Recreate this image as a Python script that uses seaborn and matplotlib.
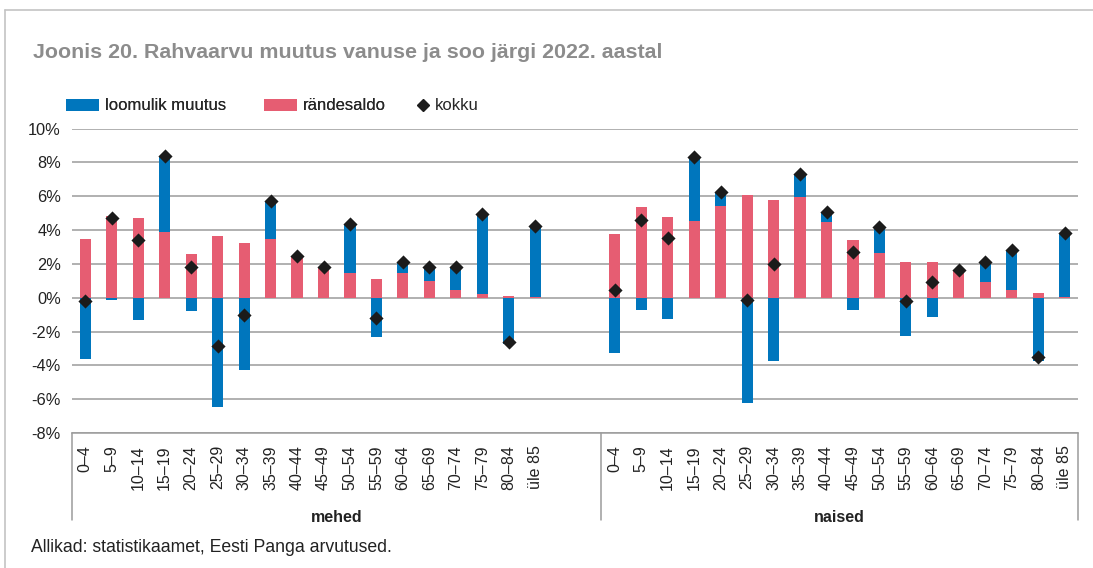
import numpy as np
import pandas as pd
import matplotlib
matplotlib.use("Agg")
import matplotlib.pyplot as plt
import matplotlib.transforms as mtransforms
from matplotlib.lines import Line2D
from matplotlib.patches import Patch
import seaborn as sns

# ---------------- data ----------------
age_groups = ["0–4", "5–9", "10–14", "15–19", "20–24", "25–29", "30–34", "35–39",
              "40–44", "45–49", "50–54", "55–59", "60–64", "65–69", "70–74",
              "75–79", "80–84", "üle 85"]
sexes = ["mehed", "naised"]

men_migration = [3.44, 4.84, 4.70, 3.89, 2.61, 3.64, 3.22, 3.44, 2.45, 1.76,
                 1.44, 1.13, 1.48, 0.99, 0.47, 0.22, 0.12, 0.06]
men_natural = [-3.62, -0.12, -1.30, 4.47, -0.81, -6.46, -4.27, 2.27, 0.02, 0.04,
               2.93, -2.35, 0.63, 0.85, 1.37, 4.70, -2.74, 4.17]
men_total = [-0.18, 4.72, 3.40, 8.36, 1.80, -2.83, -1.05, 5.71, 2.47, 1.80,
             4.37, -1.21, 2.11, 1.84, 1.84, 4.92, -2.62, 4.23]

women_migration = [3.77, 5.34, 4.78, 4.53, 5.43, 6.05, 5.75, 5.93, 4.49, 3.42,
                   2.63, 2.11, 2.11, 1.62, 0.91, 0.45, 0.26, 0.03]
women_natural = [-3.28, -0.71, -1.25, 3.79, 0.80, -6.21, -3.74, 1.38, 0.59, -0.73,
                 1.56, -2.29, -1.17, 0.02, 1.17, 2.38, -3.77, 3.78]
women_total = [0.48, 4.62, 3.54, 8.32, 6.23, -0.16, 2.00, 7.31, 5.08, 2.69,
               4.19, -0.18, 0.95, 1.64, 2.08, 2.83, -3.51, 3.81]

y_ticks = [-8, -6, -4, -2, 0, 2, 4, 6, 8, 10]

title = "Joonis 20. Rahvaarvu muutus vanuse ja soo järgi 2022. aastal"
legend_labels = ["loomulik muutus", "rändesaldo", "kokku"]
source = "Allikad: statistikaamet, Eesti Panga arvutused."

BLUE = "#0076BD"
RED = "#E65D72"
GRID = "#9b9b9b"
TEXT = "#222222"

# ---------------- table ----------------
n = len(age_groups)
gap = 2  # empty category slots after the men's group
pos = list(range(n)) + [n + gap + i for i in range(n)]
df = pd.DataFrame({
    "pos": pos,
    "sex": [sexes[0]] * n + [sexes[1]] * n,
    "age": age_groups * 2,
    "migration": men_migration + women_migration,
    "natural": men_natural + women_natural,
    "total": men_total + women_total,
})
# stacked display: positive natural change sits on top of migration
df["natural_stack"] = np.where(df["natural"] > 0, df["migration"] + df["natural"], df["natural"])

# ---------------- figure ----------------
sns.set_theme(style="white")
plt.rcParams["font.family"] = ["Liberation Sans", "DejaVu Sans"]

W, H = 1093, 568
fig = plt.figure(figsize=(W / 100, H / 100), dpi=100)
ax = fig.add_axes([72 / W, 135 / H, 1006 / W, 304.5 / H])

sns.barplot(data=df, x="pos", y="natural_stack", native_scale=True, width=0.42,
            color=BLUE, saturation=1, errorbar=None, linewidth=0, ax=ax, zorder=2)
sns.barplot(data=df, x="pos", y="migration", native_scale=True, width=0.42,
            color=RED, saturation=1, errorbar=None, linewidth=0, ax=ax, zorder=3)
sns.scatterplot(data=df, x="pos", y="total", marker="D", color="#1b1b1b", s=52,
                linewidth=0, ax=ax, zorder=5, legend=False)

n_slots = 2 * n + gap
ax.set_xlim(-0.5, n_slots - 0.5)
ax.set_ylim(y_ticks[0], y_ticks[-1])
ax.set_yticks(y_ticks)
ax.set_yticklabels([f"{v}%" for v in y_ticks], fontsize=11.8, color=TEXT)
ax.set_xticks([])
ax.set_xlabel("")
ax.set_ylabel("")
ax.tick_params(axis="y", length=0, pad=8)
ax.set_axisbelow(True)
ax.yaxis.grid(True, color=GRID, linewidth=1.1)
ax.xaxis.grid(False)
for s in ["top", "right", "left"]:
    ax.spines[s].set_visible(False)
ax.spines["bottom"].set_color(GRID)
ax.spines["bottom"].set_linewidth(1.1)

# category labels (two-level axis)
trans = mtransforms.blended_transform_factory(ax.transData, ax.transAxes)
for p, a in zip(df["pos"], df["age"]):
    ax.text(p, -0.040, a, rotation=90, ha="center", va="top", fontsize=11.5,
            color=TEXT, transform=trans)
box_bottom = -0.285
for xb in [-0.5, n + gap - 0.5, n_slots - 0.5]:
    ax.add_line(Line2D([xb, xb], [0, box_bottom], transform=trans, color=GRID,
                       linewidth=1.1, clip_on=False))
ax.text((n - 1) / 2 + gap / 2, -0.279, sexes[0], ha="center", va="center",
        fontsize=11.5, fontweight="bold", color=TEXT, transform=trans)
ax.text(n + gap + (n - 1) / 2, -0.279, sexes[1], ha="center", va="center",
        fontsize=11.5, fontweight="bold", color=TEXT, transform=trans)

# title and source
fig.text(33 / W, 1 - 52 / H, title, ha="left", va="center", fontsize=15.4,
         fontweight="bold", color="#8c8c8c")
fig.text(31 / W, 1 - 548 / H, source, ha="left", va="center", fontsize=12.7, color=TEXT)

# outer frame (top and left edges visible)
fig.add_artist(Line2D([5 / W, 1.0], [1 - 10 / H, 1 - 10 / H], transform=fig.transFigure,
                      color="#c4c4c4", linewidth=1.2))
fig.add_artist(Line2D([5 / W, 5 / W], [0, 1 - 10 / H], transform=fig.transFigure,
                      color="#c4c4c4", linewidth=1.2))

# legend: bar series
bar_handles = [Patch(facecolor=BLUE, edgecolor="none"),
               Patch(facecolor=RED, edgecolor="none")]
leg1 = fig.legend(bar_handles, legend_labels[:2], loc="center left",
                  bbox_to_anchor=(66 / W, 1 - 106 / H), ncol=2, frameon=False,
                  fontsize=12, handlelength=1.95, handleheight=0.72,
                  handletextpad=0.38, columnspacing=2.3, borderpad=0, borderaxespad=0)
# legend: total marker
dot_handle = Line2D([], [], marker="D", linestyle="none", color="#1b1b1b", markersize=6)
leg2 = fig.legend([dot_handle], legend_labels[2:], loc="center left",
                  bbox_to_anchor=(416 / W, 1 - 106 / H), frameon=False, fontsize=12,
                  handlelength=0.8, handletextpad=0.35, borderpad=0, borderaxespad=0,
                  numpoints=1)
fig.add_artist(leg1)

fig.savefig("out.png", dpi=100)
